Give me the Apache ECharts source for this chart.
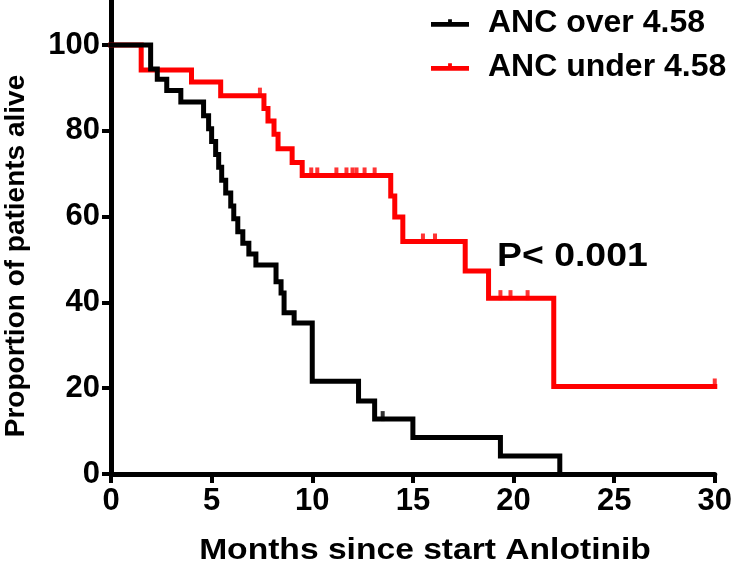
<!DOCTYPE html>
<html>
<head>
<meta charset="utf-8">
<script src="https://cdn.jsdelivr.net/npm/echarts@6/dist/echarts.min.js"></script>
<style>
html,body{margin:0;padding:0;background:#fff;}
#chart{width:735px;height:570px;}
</style>
</head>
<body>
<div id="chart"></div>
<script>
// Kaplan-Meier step data: [month, proportion after event]
var overMonths = [0, 1.97, 2.3, 2.77, 3.47, 4.6, 4.85, 5.0, 5.2, 5.35, 5.5, 5.7, 5.95, 6.1, 6.3, 6.55, 6.85, 7.2, 8.2, 8.45, 8.6, 9.1, 10.0, 12.3, 13.1, 15.0, 19.35, 22.3];
var overValues = [100, 94.4, 92.0, 89.4, 86.7, 83.5, 80.5, 77.5, 74.5, 71.5, 68.5, 65.5, 62.5, 59.5, 56.5, 53.8, 51.3, 48.7, 44.8, 42.2, 37.6, 35.2, 21.6, 17.0, 12.8, 8.5, 4.2, 0];
var overCensor = [13.5];

var underMonths = [0, 1.5, 4.0, 5.45, 7.6, 7.8, 8.1, 8.3, 9.0, 9.5, 13.9, 14.1, 14.5, 17.6, 18.76, 22.0, 30.0];
var underValues = [100, 94.2, 91.4, 88.2, 85.2, 82.3, 79.2, 75.8, 72.6, 69.6, 64.8, 59.9, 54.2, 47.3, 41.0, 20.4, 20.4];
var underCensor = [7.4, 9.95, 10.25, 11.2, 11.7, 12.0, 12.2, 12.6, 13.1, 15.5, 16.1, 19.35, 19.85, 20.7, 30.0];

var xTicks = [0, 5, 10, 15, 20, 25, 30];
var yTicks = [0, 20, 40, 60, 80, 100];

var seriesNames = ['ANC over 4.58', 'ANC under 4.58'];
var xTitle = 'Months since start Anlotinib';
var yTitle = 'Proportion of patients alive';
var pText = 'P< 0.001';

function zip(a, b) { return a.map(function (v, i) { return [v, b[i]]; }); }
function levelAt(months, values, t) {
  var lv = values[0];
  for (var i = 0; i < months.length; i++) { if (months[i] <= t) lv = values[i]; }
  return lv;
}
function censorPts(months, values, cs) {
  return cs.map(function (t) { return [t, levelAt(months, values, t)]; });
}

var FONT = "'Liberation Sans', Arial, sans-serif";
var chart = echarts.init(document.getElementById('chart'), null, {renderer: 'canvas'});
var legendIcon = 'path://M0,3H40V8H0Z M18,0H22V3H18Z';

chart.setOption({
  animation: false,
  backgroundColor: '#fff',
  grid: {left: 111, right: 18, top: 0, bottom: 96, containLabel: false},
  legend: {
    orient: 'vertical', left: 426, top: 2, itemGap: 12,
    itemWidth: 38, itemHeight: 8,
    icon: legendIcon,
    textStyle: {fontFamily: FONT, fontWeight: 'bold', fontSize: 32, color: '#000', padding: [0, 0, 0, 14]},
    data: seriesNames
  },
  xAxis: {
    type: 'value', min: 0, max: 30, interval: 5,
    axisLine: {onZero: false, lineStyle: {color: '#000', width: 5}},
    axisTick: {show: true, length: 9, lineStyle: {color: '#000', width: 4}},
    axisLabel: {fontFamily: FONT, fontWeight: 'bold', fontSize: 31, color: '#000', margin: 12,
      customValues: xTicks},
    splitLine: {show: false}
  },
  yAxis: {
    type: 'value', min: 0, max: 110.5,
    axisLine: {show: true, onZero: false, lineStyle: {color: '#000', width: 5}},
    axisTick: {show: true, length: 9, lineStyle: {color: '#000', width: 4}, customValues: yTicks},
    axisLabel: {fontFamily: FONT, fontWeight: 'bold', fontSize: 31, color: '#000', margin: 11,
      customValues: yTicks},
    splitLine: {show: false}
  },
  graphic: [
    {type: 'text', x: 497, y: 257, scaleX: 1.1,
     style: {text: pText, font: "bold 34px 'Liberation Sans', Arial, sans-serif", fill: '#000',
             verticalAlign: 'middle'}},
    {type: 'text', x: 425, y: 551, scaleX: 1.12,
     style: {text: xTitle, font: "bold 30px 'Liberation Sans', Arial, sans-serif", fill: '#000',
             align: 'center', verticalAlign: 'middle'}},
    {type: 'text', x: 16, y: 256, rotation: Math.PI / 2,
     style: {text: yTitle, font: "bold 28px 'Liberation Sans', Arial, sans-serif", fill: '#000',
             align: 'center', verticalAlign: 'middle'}}
  ],
  series: [
    {name: seriesNames[0], type: 'line', step: 'end', data: zip(overMonths, overValues),
     showSymbol: false, symbol: 'none', color: '#000', clip: false,
     lineStyle: {color: '#000', width: 5, cap: 'square', join: 'miter'}, z: 3},
    {name: seriesNames[1], type: 'line', step: 'end', data: zip(underMonths, underValues),
     showSymbol: false, symbol: 'none', color: '#ff0000', clip: false,
     lineStyle: {color: '#ff0000', width: 5, cap: 'square', join: 'miter'}, z: 2},
    {name: 'overCensor', type: 'scatter', data: censorPts(overMonths, overValues, overCensor),
     symbol: 'rect', symbolSize: [4, 10], symbolOffset: [0, -3], itemStyle: {color: '#000'}, z: 4, clip: false},
    {name: 'underCensor', type: 'scatter', data: censorPts(underMonths, underValues, underCensor),
     symbol: 'rect', symbolSize: [4, 10], symbolOffset: [0, -3], itemStyle: {color: '#ff0000'}, z: 4, clip: false}
  ]
});
</script>
</body>
</html>
